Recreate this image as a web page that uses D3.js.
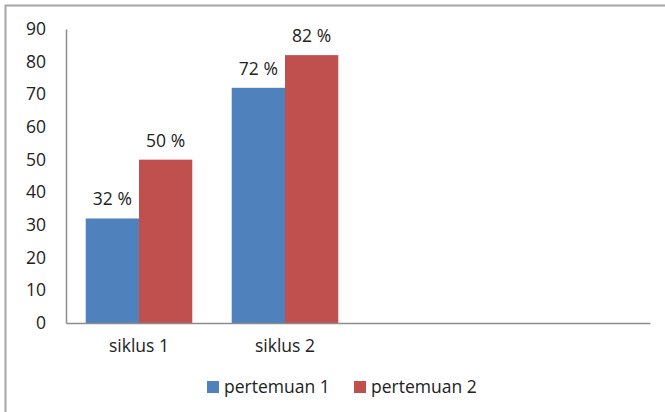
<!DOCTYPE html>
<html>
<head>
<meta charset="utf-8">
<script src="https://cdn.jsdelivr.net/npm/d3@7"></script>
<style>
  body { margin: 0; background: #fff; }
  svg text { font-family: "Open Sans", sans-serif; fill: #222; }
</style>
</head>
<body>
<div class="chart"></div>
<script>
// data
var categories = ["siklus 1", "siklus 2", "", " "];
var seriesNames = ["pertemuan 1", "pertemuan 2"];
var pertemuan1 = [32, 72, null, null];
var pertemuan2 = [50, 82, null, null];
var yTicks = [0, 10, 20, 30, 40, 50, 60, 70, 80, 90];
var colors = ["#4f81bd", "#c0504d"];

// dimensions
var W = 665, H = 412;
var margin = {top: 29, right: 15, bottom: 89, left: 66};
var width = W - margin.left - margin.right;
var height = H - margin.top - margin.bottom;
var fontSize = "17.5px";

var svg = d3.select(".chart").append("svg")
  .attr("width", W)
  .attr("height", H);

// outer frame (runs off right/bottom edge like the screenshot)
svg.append("rect")
  .attr("x", 5.5).attr("y", 5.5)
  .attr("width", W + 10).attr("height", H + 10)
  .attr("fill", "none")
  .attr("stroke", "#a6a6a6")
  .attr("stroke-width", 2);

var chart = svg.append("g")
  .attr("transform", "translate(" + margin.left + "," + margin.top + ")");

// scales
var x0 = d3.scaleBand().domain(categories).range([0, width]).paddingInner(0.27).paddingOuter(0.135);
var x1 = d3.scaleBand().domain(seriesNames).range([0, x0.bandwidth()]);
var y = d3.scaleLinear().domain([0, 90]).range([height, 0]);

var data = categories.map(function(c, i) {
  return {cat: c, values: [pertemuan1[i], pertemuan2[i]]};
});

function points(d) {
  return d.values.map(function(v, j) { return {s: seriesNames[j], v: v, j: j}; })
    .filter(function(e) { return e.v != null; });
}

// bars
var groups = chart.selectAll(".grp")
  .data(data)
  .enter().append("g")
  .attr("transform", function(d) { return "translate(" + x0(d.cat) + ",0)"; });

groups.selectAll("rect")
  .data(points)
  .enter().append("rect")
  .attr("x", function(d) { return x1(d.s); })
  .attr("y", function(d) { return y(d.v); })
  .attr("width", x1.bandwidth())
  .attr("height", function(d) { return height - y(d.v); })
  .attr("fill", function(d) { return colors[d.j]; });

// data labels
groups.selectAll("text.lbl")
  .data(points)
  .enter().append("text")
  .attr("class", "lbl")
  .attr("x", function(d) { return x1(d.s) + x1.bandwidth() / 2; })
  .attr("y", function(d) { return y(d.v) - 13; })
  .attr("text-anchor", "middle")
  .style("font-size", fontSize)
  .text(function(d) { return d.v + " %"; });

// y axis
var yAxis = chart.append("g")
  .call(d3.axisLeft(y).tickValues(yTicks).tickSize(0).tickPadding(20));
yAxis.select(".domain").attr("stroke", "#8c8c8c").attr("stroke-width", 1.5);
yAxis.selectAll("text").style("font-size", fontSize).style("font-family", "'Open Sans', sans-serif").attr("fill", "#222");

// x axis
var xAxis = chart.append("g")
  .attr("transform", "translate(0," + height + ")")
  .call(d3.axisBottom(x0).tickSize(0).tickPadding(17));
xAxis.select(".domain").attr("stroke", "#8c8c8c").attr("stroke-width", 1.5);
xAxis.selectAll("text").style("font-size", fontSize).style("font-family", "'Open Sans', sans-serif").attr("fill", "#222");

// legend
var legend = svg.append("g").attr("transform", "translate(207,387)");
var lx = [0, 147];
seriesNames.forEach(function(s, i) {
  var g = legend.append("g").attr("transform", "translate(" + lx[i] + ",0)");
  g.append("rect").attr("x", 0).attr("y", -6).attr("width", 12).attr("height", 12).attr("fill", colors[i]);
  g.append("text").attr("x", 17).attr("y", 0).attr("dy", "0.35em")
    .style("font-size", fontSize).text(s);
});
</script>
</body>
</html>
